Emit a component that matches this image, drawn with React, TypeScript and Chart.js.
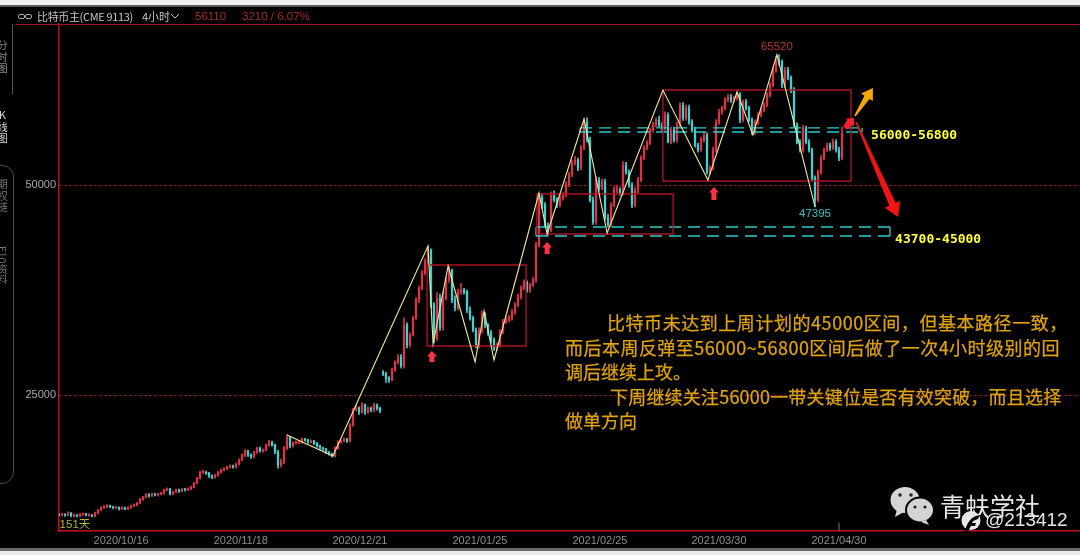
import React, { useEffect, useRef } from "react";
import { Chart, registerables } from "chart.js";

Chart.register(...registerables);

const opens = [
  10800,10700,10800,10700,10950,10600,10700,10600,10800,10800,
  10700,10700,10600,10950,11300,11600,11700,11800,11700,11600,
  11600,11450,11600,11450,11600,11800,11900,12150,12600,12850,
  13100,13000,13200,13100,13200,13300,13700,13800,13200,13450,
  13700,13550,13800,13700,13800,14050,14500,15100,15800,15800,
  15700,15350,15200,15450,15800,16070,16200,16430,16550,16430,
  16780,17260,17860,18330,17860,17620,18200,18690,18330,18450,
  19050,19400,19050,18200,16670,17000,18690,20000,18930,19280,
  19400,19400,19760,19640,19400,19520,19280,18930,18690,18570,
  18200,18000,17740,18690,19400,19520,19760,19520,21430,23210,
  23450,22980,23810,22980,23450,23210,23810,23450,27700,27500,
  27000,26800,27980,28930,29520,28450,33330,30950,32140,34170,
  36310,37740,39520,40830,42260,35710,31780,36550,32980,36550,
  38690,39880,36310,35360,37260,37500,37260,35120,34170,32740,
  30950,32740,34640,33330,32380,31550,30600,30950,32500,33690,
  33930,34170,34880,35710,36660,37740,38450,37500,38100,38690,
  42860,48570,47620,45240,44640,48810,48210,47620,48450,48810,
  50000,51190,52620,52980,52020,54400,57500,55360,48210,45600,
  50600,49640,50360,46070,45240,47620,49400,49400,49050,52380,
  51550,50000,47620,49400,50600,53210,54400,55000,56550,57140,
  57740,57140,56790,58330,55120,56550,55360,57140,59520,57980,
  59170,57500,56550,54760,54170,55360,55950,51550,52020,54170,
  57500,58690,59170,60120,60480,60120,60360,60830,57740,59880,
  59170,57740,56310,57500,58330,58930,59520,60710,61900,63690,
  64880,64640,61900,63690,62740,61310,57140,55120,54170,56790,
  55120,54170,50830,48210,51550,53210,54170,54760,54400,55120,
  54170,53210,
];

const closes = [
  10700,10800,10700,10950,10600,10700,10600,10800,10800,10700,
  10700,10600,10950,11300,11600,11700,11800,11700,11600,11600,
  11450,11600,11450,11600,11800,11900,12150,12600,12850,13100,
  13000,13200,13100,13200,13300,13700,13800,13200,13450,13700,
  13550,13800,13700,13800,14050,14500,15100,15800,15800,15700,
  15350,15200,15450,15800,16070,16200,16430,16550,16430,16780,
  17260,17860,18330,17860,17620,18200,18690,18330,18450,19050,
  19400,19050,18200,16670,17000,18690,20000,18930,19280,19400,
  19400,19760,19640,19400,19520,19280,18930,18690,18570,18200,
  18000,17740,18690,19400,19520,19760,19520,21430,23210,23450,
  22980,23810,22980,23450,23210,23810,23450,23100,27500,27000,
  26800,27980,28930,29520,28450,33330,30950,32140,34170,36310,
  37740,39520,40830,42260,35710,31780,36550,32980,36550,38690,
  39880,36310,35360,37260,37500,37260,35120,34170,32740,30950,
  32740,34640,33330,32380,31550,30600,30950,32500,33690,33930,
  34170,34880,35710,36660,37740,38450,37500,38100,38690,42860,
  48570,47620,45240,44640,48810,48210,47620,48450,48810,50000,
  51190,52620,52980,52020,54400,57500,55360,48210,45600,50600,
  49640,50360,46070,45240,47620,49400,49400,49050,52380,51550,
  50000,47620,49400,50600,53210,54400,55000,56550,57140,57740,
  57140,56790,58330,55120,56550,55360,57140,59520,57980,59170,
  57500,56550,54760,54170,55360,55950,51550,52020,54170,57500,
  58690,59170,60120,60480,60120,60360,60830,57740,59880,59170,
  57740,56310,57500,58330,58930,59520,60710,61900,63690,64880,
  64640,61900,63690,62740,61310,57140,55120,54170,56790,55120,
  54170,50830,48210,51550,53210,54170,54760,54400,55120,54170,
  53210,56110,
];

const highs = [
  10900,10950,10850,11100,11000,10850,10750,10900,10950,10900,
  10850,10750,11050,11400,11700,11850,11950,11900,11750,11750,
  11700,11700,11650,11700,11900,12050,12250,12700,12950,13250,
  13250,13350,13300,13300,13450,13800,13950,13900,13550,13800,
  13800,13900,13900,13950,14150,14600,15200,15950,16050,15950,
  15800,15500,15550,15900,16200,16350,16550,16700,16650,16900,
  17400,18000,18500,18400,18000,18300,18800,18800,18600,19150,
  19600,19500,19150,18400,17400,18900,20300,20050,19450,19550,
  19550,19900,19850,19750,19650,19600,19350,19050,18800,18650,
  18300,18100,18850,19550,19650,19900,19850,21600,23400,23800,
  23600,24100,23950,23600,23550,24050,23950,23550,27900,27700,
  27200,28200,29100,29800,29800,34200,33600,32400,34400,36600,
  38000,39800,41200,42700,42400,36000,37200,37000,37300,39000,
  40300,40000,36800,37600,38300,37700,37500,35500,34400,33000,
  33000,35000,34800,33500,32700,31800,31200,32800,34000,34300,
  34500,35200,36000,37000,38000,38700,38600,38300,39000,43200,
  49000,49000,47900,45500,49200,49300,48500,48800,49100,50400,
  51500,52900,53400,53200,54700,57900,58000,55700,48600,51000,
  50900,50700,50700,46500,47900,49800,50000,49700,52800,52700,
  51800,50300,49700,50900,53500,54700,55300,56800,57500,58000,
  58200,57400,58700,58600,56900,56900,57500,59800,59800,59500,
  59500,57800,56900,55000,55700,56300,56200,52300,54500,57800,
  59000,59400,60400,60800,60800,60600,61100,61000,60100,60200,
  59400,58000,57800,58600,59200,59800,61000,62200,64000,65300,
  65520,64900,64000,64000,63000,61600,57400,55400,57100,57000,
  55400,54400,51100,51800,53500,54400,55000,55000,55500,55400,
  54500,56900,
];

const lows = [
  10600,10600,10550,10600,10500,10500,10500,10500,10700,10600,
  10550,10500,10500,10850,11200,11500,11600,11600,11450,11450,
  11300,11350,11350,11350,11500,11700,11800,12050,12450,12750,
  12850,12900,13000,13000,13100,13200,13600,13100,13100,13350,
  13400,13450,13550,13600,13700,13950,14400,15000,15650,15550,
  15200,15050,15100,15300,15700,15950,16100,16300,16300,16300,
  16650,17150,17700,17700,17450,17500,18050,18200,18200,18350,
  18900,18900,18000,16300,16400,16800,18500,18700,18800,19150,
  19200,19250,19500,19250,19300,19100,18800,18500,18400,18050,
  17850,17600,17600,18550,19250,19400,19350,19400,21300,23100,
  22700,22800,22700,22800,23000,23000,23200,22900,27300,26500,
  26500,26700,27800,28700,28200,28200,30600,30700,32000,34000,
  36000,37500,39300,40600,35400,31200,31500,32700,32700,36300,
  38400,36000,35000,35100,37000,37000,34800,33900,32500,30600,
  30600,32400,33000,32100,31200,30300,30300,30700,32300,33500,
  33700,33900,34600,35500,36400,37500,37200,37200,37900,38400,
  42600,47200,45000,44000,44400,48000,47300,47400,48200,48600,
  49800,51000,52400,51700,51800,54200,55100,48000,45300,45300,
  49300,49400,45800,45000,45000,47400,49100,48800,48800,51300,
  49700,47300,47400,49100,50400,53000,54200,54800,56300,56900,
  56900,56500,56500,55000,54900,55100,55100,56900,57700,57700,
  57200,56300,54500,53900,54000,55100,51300,51300,51800,53900,
  57200,58400,58900,59900,59800,59900,60100,57400,57500,58900,
  57500,56000,56000,57200,58100,58700,59300,60500,61700,63400,
  64300,61600,61600,62500,61000,56900,54900,53900,53900,54900,
  53900,50500,47395,48000,51300,53000,54000,54100,54200,53900,
  52900,53000,
];

const xTickPositions = [20.7, 60.6, 100.3, 140.3, 180.3, 220, 260];
const xTickLabels = ["2020/10/16", "2020/11/18", "2020/12/21", "2021/01/25", "2021/02/25", "2021/03/30", "2021/04/30"];
const yTicks = [25000, 50000];

const zigzagX = [76, 91.3, 123, 124.7, 129.7, 138.7, 141.7, 145, 160, 162.7, 175, 182.7, 201.3, 216.3, 226, 231.3, 239.3, 252];
const zigzagY = [20238, 17738, 42738, 31071, 40357, 28929, 35000, 29167, 49048, 44167, 57857, 44286, 61310, 50595, 61071, 55952, 65520, 47395];

// Red consolidation boxes: [x0, x1, top value, bottom value]
const redBoxes = [
  [122.7, 155.7, 40476, 30833],
  [159.3, 204.7, 48929, 44167],
  [201.3, 264, 61310, 50476],
];
// Cyan target zones: [x0, x1, upper value, lower value]
const cyanZones = [
  [173.7, 267.7, 56800, 56310],
  [159, 277, 45000, 43930],
];

// Arrows: tail x, tail value, tip x, tip value
const upMarkers = [
  [124.3, 28927, 124.3, 30237],
  [162.7, 41785, 162.7, 43214],
  [218.3, 48214, 218.3, 49760],
];
const bigRedArrow = [265.7, 57500, 279.7, 46190];
const yellowArrow = [265.3, 58214, 271.3, 61548];
const smallRedArrow = [262, 56786, 265, 57976];

const noteLabels = [
  { text: "65520", x: 239.3, y: 66428, color: "#b83838", font: "11.5px 'Liberation Sans'", align: "center" },
  { text: "47395", x: 252, y: 46548, color: "#35c4c4", font: "11.5px 'Liberation Sans'", align: "center" },
  { text: "56000-56800", x: 270.7, y: 55830, color: "#ffff3c", font: "bold 13px 'DejaVu Sans Mono'", align: "left" },
  { text: "43700-45000", x: 278.7, y: 43500, color: "#ffff3c", font: "bold 13px 'DejaVu Sans Mono'", align: "left" },
  { text: "151天", x: 0.2, y: 9600, color: "#b5b53c", font: "11.5px 'Liberation Sans','Noto Sans CJK SC'", align: "left" },
];

const paragraphLines = [
  { text: "比特币未达到上周计划的45000区间，但基本路径一致，", left: 607, top: 322, spacing: 0.55 },
  { text: "而后本周反弹至56000~56800区间后做了一次4小时级别的回", left: 565, top: 347, spacing: 0.47 },
  { text: "调后继续上攻。", left: 565, top: 371, spacing: 0 },
  { text: "下周继续关注56000一带关键位是否有效突破，而且选择", left: 610, top: 396, spacing: 0.2 },
  { text: "做单方向", left: 565, top: 420, spacing: 0 },
];

const RED = "#de3346";
const CYAN = "#3fd2d2";
const AXIS_RED = "#c40f22";

const seg = (pts: number[][], color: string, width: number, dash: number[] = []) => ({
  type: "line" as const,
  data: pts.map(([x, y]) => ({ x, y })),
  borderColor: color,
  borderWidth: width,
  borderDash: dash,
  pointRadius: 0,
  tension: 0,
  fill: false,
  order: 1,
});

const arrowPlugin = {
  id: "arrows",
  afterDatasetsDraw(chart: any) {
    const { ctx, scales } = chart;
    const sx = scales.x;
    const sy = scales.y;
    const poly = (a: number[], tailW: number, neckW: number, headW: number, headLen: number, color: string) => {
      const x0 = sx.getPixelForValue(a[0]);
      const y0 = sy.getPixelForValue(a[1]);
      const x1 = sx.getPixelForValue(a[2]);
      const y1 = sy.getPixelForValue(a[3]);
      const len = Math.hypot(x1 - x0, y1 - y0);
      const ux = (x1 - x0) / len;
      const uy = (y1 - y0) / len;
      const nx = -uy;
      const ny = ux;
      const bx = x1 - ux * headLen;
      const by = y1 - uy * headLen;
      ctx.save();
      ctx.fillStyle = color;
      ctx.beginPath();
      ctx.moveTo(x0 + (nx * tailW) / 2, y0 + (ny * tailW) / 2);
      ctx.lineTo(bx + (nx * neckW) / 2, by + (ny * neckW) / 2);
      ctx.lineTo(bx + (nx * headW) / 2, by + (ny * headW) / 2);
      ctx.lineTo(x1, y1);
      ctx.lineTo(bx - (nx * headW) / 2, by - (ny * headW) / 2);
      ctx.lineTo(bx - (nx * neckW) / 2, by - (ny * neckW) / 2);
      ctx.lineTo(x0 - (nx * tailW) / 2, y0 - (ny * tailW) / 2);
      ctx.closePath();
      ctx.fill();
      ctx.restore();
    };
    upMarkers.forEach((m) => poly(m, 5, 5, 10, 5.5, "#ff3344"));
    poly(bigRedArrow, 1.5, 7, 17, 14, "#f21414");
    poly(yellowArrow, 1.5, 6, 14, 11, "#f7a800");
    poly(smallRedArrow, 5, 7, 11, 6, "#ff1f33");
    noteLabels.forEach((l) => {
      ctx.save();
      ctx.font = l.font;
      ctx.fillStyle = l.color;
      ctx.textAlign = l.align;
      ctx.textBaseline = "middle";
      ctx.fillText(l.text, sx.getPixelForValue(l.x), sy.getPixelForValue(l.y));
      ctx.restore();
    });
  },
};

const abs = (o: React.CSSProperties): React.CSSProperties => ({ position: "absolute", whiteSpace: "nowrap", ...o });
const CJK = "'Noto Sans CJK SC','Noto Sans',sans-serif";

function SideLabel({ text, top, color, mixed }: { text: string; top: number; color: string; mixed?: boolean }) {
  return (
    <div
      style={abs({
        left: -3,
        top,
        writingMode: "vertical-rl",
        textOrientation: mixed ? "mixed" : "upright",
        fontFamily: CJK,
        fontSize: 10.5,
        lineHeight: "11px",
        letterSpacing: mixed ? 0 : 1,
        color,
      })}
    >
      {text}
    </div>
  );
}

export default function App() {
  const ref = useRef<HTMLCanvasElement | null>(null);

  useEffect(() => {
    document.body.style.margin = "0";
    document.body.style.background = "#000";
    if (!ref.current) return;
    const bodyColors = closes.map((c, i) => (c >= opens[i] ? RED : CYAN));
    const boxLines = redBoxes.map(([x0, x1, t, b]) =>
      seg([[x0, t], [x1, t], [x1, b], [x0, b], [x0, t]], "#a81322", 1.4)
    );
    const zoneLines = cyanZones.flatMap(([x0, x1, t, b]) => [
      seg([[x0, t], [x1, t]], "#2fcaca", 1.3, [12, 7]),
      seg([[x0, b], [x1, b]], "#2fcaca", 1.3, [12, 7]),
      seg([[x0, t], [x0, b]], "#2fcaca", 1.3),
      seg([[x1, t], [x1, b]], "#2fcaca", 1.3),
    ]);
    const chart = new Chart(ref.current, {
      type: "bar",
      data: {
        datasets: [
          seg(zigzagX.map((x, i) => [x, zigzagY[i]]), "#efe89a", 1.1),
          ...boxLines,
          ...zoneLines,
          seg([[260, 8810], [260, 9800]], "#777777", 1),
          {
            data: closes.map((c, i) => ({ x: i, y: [opens[i], c] })),
            backgroundColor: bodyColors,
            barThickness: 1.6,
            minBarLength: 1,
            grouped: false,
            order: 9,
          },
          {
            data: closes.map((_, i) => ({ x: i, y: [lows[i], highs[i]] })),
            backgroundColor: bodyColors,
            barThickness: 1,
            grouped: false,
            order: 10,
          },
        ] as any,
      },
      options: {
        animation: false,
        responsive: false,
        devicePixelRatio: 1,
        events: [],
        layout: { padding: { top: 24, right: 0, left: 0, bottom: 0 } },
        plugins: { legend: { display: false }, tooltip: { enabled: false } },
        scales: {
          x: {
            type: "linear",
            offset: false,
            min: 0,
            max: 340.33,
            grid: { display: false, drawTicks: false, offset: false },
            border: { color: AXIS_RED, width: 1.5 },
            afterFit: (s: any) => {
              s.height = 24;
            },
            afterBuildTicks: (s: any) => {
              s.ticks = xTickPositions.map((value) => ({ value }));
            },
            ticks: {
              autoSkip: false,
              maxRotation: 0,
              padding: 3,
              color: "#8e8e8e",
              font: { family: "'Liberation Sans'", size: 11 },
              callback: (v: any) => xTickLabels[xTickPositions.indexOf(Number(v))] ?? "",
            },
          },
          y: {
            type: "linear",
            min: 8810,
            max: 69167,
            grid: { color: "#c01a2c", drawTicks: false, lineWidth: 1 },
            border: { color: AXIS_RED, width: 1.5, dash: [2, 3] },
            afterFit: (s: any) => {
              s.width = 59;
            },
            afterBuildTicks: (s: any) => {
              s.ticks = yTicks.map((value) => ({ value }));
            },
            ticks: {
              autoSkip: false,
              padding: 3,
              color: "#a8a8a8",
              font: { family: "'Liberation Sans'", size: 11 },
              callback: (v: any) => String(v),
            },
          },
        },
      } as any,
      plugins: [arrowPlugin as any],
    });
    return () => chart.destroy();
  }, []);

  return (
    <div style={{ position: "relative", width: 1080, height: 555, overflow: "hidden", background: "#000" }}>
      <canvas ref={ref} width={1080} height={555} style={{ display: "block", position: "absolute", left: 0, top: 0 }} />

      {/* window frame */}
      <div style={abs({ left: 0, top: 0, width: 1080, height: 5, background: "#efefef" })} />
      <div style={abs({ left: 0, top: 5, width: 1080, height: 2, background: "#5c5c5c" })} />
      <div style={abs({ left: 0, top: 548, width: 1080, height: 3, background: "#6a6a6a" })} />
      <div style={abs({ left: 0, top: 551, width: 1080, height: 4, background: "#ececec" })} />
      <div style={abs({ left: 15, top: 24, width: 1065, height: 1, background: "#a5101f" })} />

      {/* header */}
      <div style={abs({ left: 18, top: 14, width: 5, height: 3, border: "1px solid #aaa", borderRadius: 2 })} />
      <div style={abs({ left: 25, top: 14, width: 5, height: 3, border: "1px solid #aaa", borderRadius: 2 })} />
      <div style={abs({ left: 37, top: 8, fontFamily: CJK, fontSize: 11, letterSpacing: -0.35, lineHeight: "16px", color: "#c4c4c4" })}>比特币主(CME 9113)</div>
      <div style={abs({ left: 142, top: 8, fontFamily: CJK, fontSize: 11, lineHeight: "16px", color: "#c4c4c4" })}>4小时</div>
      <svg style={abs({ left: 170, top: 13 })} width="10" height="7">
        <path d="M1 1 L5 5 L9 1" stroke="#c4c4c4" strokeWidth="1" fill="none" />
      </svg>
      <div style={abs({ left: 195, top: 8, fontFamily: "'Liberation Sans'", fontSize: 11.5, lineHeight: "16px", color: "#a82a2a" })}>56110</div>
      <div style={abs({ left: 242, top: 8, fontFamily: "'Liberation Sans'", fontSize: 11.5, lineHeight: "16px", color: "#a82a2a" })}>3210 / 6.07%</div>

      {/* left tabs */}
      <SideLabel text="分时图" top={40} color="#8a8a8a" />
      <SideLabel text="K线图" top={110} color="#d8d8d8" />
      <SideLabel text="期权链" top={179} color="#777" />
      <SideLabel text="F10资料" top={246} color="#777" mixed />
      <div style={abs({ left: -6, top: 24, width: 18, height: 70, borderRight: "1px solid #555" })} />
      <div style={abs({ left: -20, top: 165, width: 32, height: 317, border: "1px solid #4a4a4a", borderRadius: 12 })} />

      {/* commentary */}
      {paragraphLines.map((l) => (
        <div
          key={l.text}
          style={abs({
            left: l.left,
            top: l.top - 12,
            fontFamily: CJK,
            fontSize: 18,
            lineHeight: "24px",
            letterSpacing: l.spacing,
            color: "#dfa30f",
            WebkitTextStroke: "0.25px #dfa30f",
          })}
        >
          {l.text}
        </div>
      ))}

      {/* watermark */}
      <svg style={abs({ left: 888, top: 484 })} width="50" height="44">
        <ellipse cx="17" cy="16" rx="14.5" ry="13" fill="#d4d4d4" />
        <path d="M9 25 L7 33 L16 28 Z" fill="#d4d4d4" />
        <ellipse cx="32" cy="26" rx="14" ry="12.5" fill="#d4d4d4" stroke="#000" strokeWidth="2" />
        <path d="M38 36 L41 41 L33 38 Z" fill="#d4d4d4" />
        <circle cx="12" cy="11" r="1.8" fill="#222" />
        <circle cx="23" cy="11" r="1.8" fill="#222" />
        <circle cx="27" cy="23" r="1.6" fill="#222" />
        <circle cx="37" cy="23" r="1.6" fill="#222" />
      </svg>
      <div style={abs({ left: 940, top: 488, fontFamily: CJK, fontSize: 25, lineHeight: "34px", color: "#e6e6e6" })}>青蚨学社</div>
      <svg style={abs({ left: 960, top: 510 })} width="22" height="24">
        <circle cx="11" cy="10.5" r="9.5" fill="#e8e8e8" />
        <path d="M4 23 C7 14 10 6 20 5 L18 9 C14 10 12 12 12 13 L16 13 L15 16 L11 16 L8 21 Z" fill="#000" />
      </svg>
      <div style={abs({ left: 985, top: 508, fontFamily: "'Liberation Sans'", fontSize: 19, lineHeight: "24px", color: "#e4e4e4" })}>@213412</div>
    </div>
  );
}
